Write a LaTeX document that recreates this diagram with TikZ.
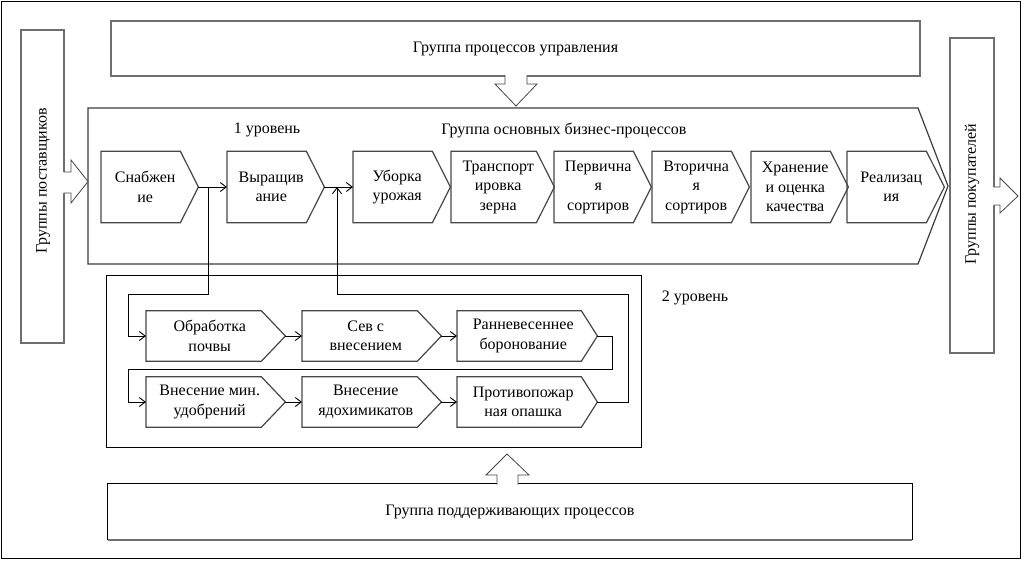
\documentclass[tikz,border=0pt]{standalone}
\usepackage{fontspec}
\setmainfont{Liberation Serif}
\usetikzlibrary{arrows.meta,calc}
\definecolor{chevgray}{RGB}{70,70,70}
\definecolor{maingray}{RGB}{60,60,60}
\definecolor{boxgray}{RGB}{110,110,110}
\newcommand\chevout[2]{%
  \draw[outl] (#1.north west) -- ([xshift=-#2pt]#1.north east) -- ([xshift=#2pt]#1.east)
    -- ([xshift=-#2pt]#1.south east) -- (#1.south west) -- cycle;
  \coordinate (#1-t) at ([xshift=#2pt]#1.east);}
\begin{document}
\begin{tikzpicture}[x=1pt,y=-1pt,
  every node/.style={font=\fontsize{16}{19.5}\selectfont, inner sep=0pt, align=center},
  chevA/.style={rectangle, minimum height=71pt, minimum width=88pt, anchor=west},
  chevB/.style={rectangle, minimum height=50pt, minimum width=127pt, anchor=west},
  outl/.style={draw=chevgray, line width=1.2pt, line join=miter},
  conn/.style={draw=black, line width=0.9pt},
  arr/.style={conn, -{Straight Barb[length=6pt,width=9pt]}},
  blockarrow/.style={draw=chevgray, line width=0.8pt, line join=miter},
  bigbox/.style={draw=boxgray, line width=1.7pt, rectangle},
]
\useasboundingbox (0,0) rectangle (1024,563);
% outer frame
\draw[black, line width=1.2pt] (1.5,1.5) rectangle (1020.5,558.5);

% management group
\node[bigbox, minimum width=809pt, minimum height=55pt] (mg) at (515.5,48.5) {Группа процессов управления};

% main process chevron
\draw[draw=maingray, line width=1.2pt, line join=miter] (88,108) -- (918,108) -- (948,186) -- (918,264) -- (88,264) -- cycle;
\node (t1) at (267,130) {1 уровень};
\node (tmain) at (564,130) {Группа основных бизнес-процессов};

% suppliers / customers
\node[bigbox, minimum width=43pt, minimum height=313pt] (sup) at (42.5,186.5) {};
\node[rotate=90] (suplab) at (43,181) {Группы поставщиков};
\node[bigbox, minimum width=44pt, minimum height=315pt] (cus) at (972,195.5) {};
\node[rotate=90] (cuslab) at (972,194) {Группы покупателей};

% level 1 chevrons
\node[chevA] (sn) at (101,187) {Снабжен\\ие};
\node[chevA] (vy) at (227,187) {Выращив\\ание};
\node[chevA] (ub) at (353,187) {Уборка\\урожая};
\node[chevA, minimum width=94pt] (tr) at (451,187) {Транспорт\\ировка\\зерна};
\node[chevA] (pe) at (554,187) {Первична\\я\\сортиров};
\node[chevA] (vt) at (652,187) {Вторична\\я\\сортиров};
\node[chevA] (hr) at (751,187) {Хранение\\и оценка\\качества};
\node[chevA] (re) at (847,187) {Реализац\\ия};
\foreach \n in {sn,vy,ub,tr,pe,vt,hr,re}{\chevout{\n}{9}}

% level 2 box
\draw[black, line width=1pt] (106.5,275.5) rectangle (641.5,447);
\node (t2) at (695,298) {2 уровень};

% level 2 chevrons
\node[chevB] (ob) at (146,336) {Обработка\\почвы};
\node[chevB] (sv) at (302,336) {Сев с\\внесением};
\node[chevB, minimum width=132pt] (rn) at (457,336) {Ранневесеннее\\боронование};
\node[chevB] (vm) at (146,402) {Внесение мин.\\удобрений};
\node[chevB] (ya) at (302,402) {Внесение\\ядохимикатов};
\node[chevB, minimum width=132pt] (pr) at (457,402) {Противопожар\\ная опашка};
\foreach \n in {ob,sv,vm,ya}{\chevout{\n}{12}}
\foreach \n in {rn,pr}{\chevout{\n}{8}}

% support group
\node[rectangle, minimum width=804pt, minimum height=56pt] (spt) at (510,512) {Группа поддерживающих процессов};
\draw[black, line width=1.2pt] (spt.south west) -- (spt.north west) -- (spt.north east) -- (spt.south east);
\draw[boxgray, line width=2pt] (spt.south west) -- (spt.south east);

% block arrows
\fill[white] (505,74.5) -- (505,84) -- (495,84) -- (516,106) -- (537,84) -- (527,84) -- (527,74.5) -- cycle;
\draw[blockarrow] (505,75.2) -- (505,84) -- (495,84) -- (516,106) -- (537,84) -- (527,84) -- (527,75.2);
\fill[white] (497,485.5) -- (497,475) -- (486,475) -- (507,454) -- (529,475) -- (518,475) -- (518,485.5) -- cycle;
\draw[blockarrow] (497,484.6) -- (497,475) -- (486,475) -- (507,454) -- (529,475) -- (518,475) -- (518,484.6);
\fill[white] (62.8,172) -- (71,172) -- (71,160) -- (88,181.5) -- (71,203) -- (71,193) -- (62.8,193) -- cycle;
\draw[blockarrow] (63.7,172) -- (71,172) -- (71,160) -- (88,181.5) -- (71,203) -- (71,193) -- (63.7,193);
\fill[white] (992.8,187) -- (1000,187) -- (1000,178) -- (1018,196) -- (1000,213) -- (1000,205) -- (992.8,205) -- cycle;
\draw[blockarrow] (993.7,187) -- (1000,187) -- (1000,178) -- (1018,196) -- (1000,213) -- (1000,205) -- (993.7,205);

% connectors level 1
\coordinate (b1) at (208,187);
\coordinate (b2) at (337,187);
\draw[arr] (sn-t) -- (vy.west);
\draw[arr] (vy-t) -- (ub.west);

% connectors level 2
\coordinate (k1) at (128,294);
\coordinate (k2) at (628,294);
\coordinate (k3) at (612,369);
\coordinate (k4) at (128,369);
\draw[arr] (b1) |- (k1) |- (ob.west);
\draw[arr] (ob-t) -- (sv.west);
\draw[arr] (sv-t) -- (rn.west);
\draw[arr] (rn-t) -| (k3) -- (k4) |- (vm.west);
\draw[arr] (vm-t) -- (ya.west);
\draw[arr] (ya-t) -- (pr.west);
\draw[arr] (pr-t) -| (k2) -| (b2);
\end{tikzpicture}
\end{document}
